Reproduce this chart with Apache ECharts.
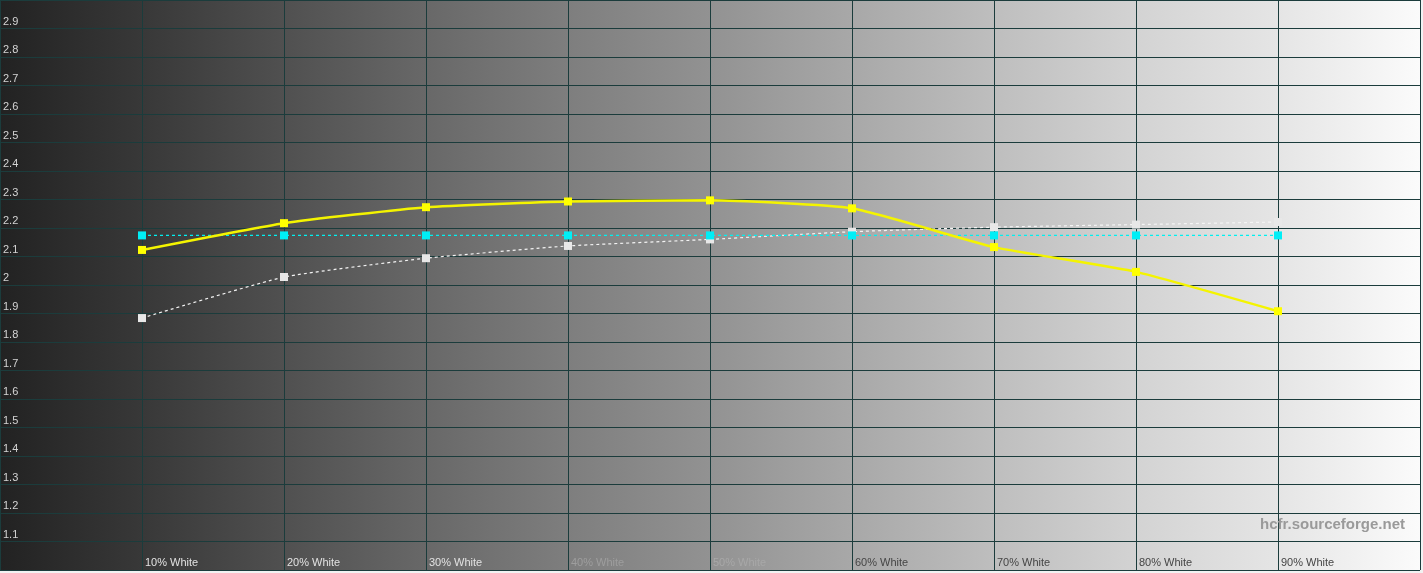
<!DOCTYPE html>
<html>
<head>
<meta charset="utf-8">
<script src="https://cdn.jsdelivr.net/npm/echarts@6/dist/echarts.min.js"></script>
<style>
html,body{margin:0;padding:0;background:#f2f2f2;}
#chart{width:1423px;height:573px;}
</style>
</head>
<body>
<div id="chart"></div>
<script>
const levels = [10, 20, 30, 40, 50, 60, 70, 80, 90];
const categories = ['10% White','20% White','30% White','40% White','50% White','60% White','70% White','80% White','90% White'];
const gammaMeasured = [2.123, 2.217, 2.273, 2.293, 2.297, 2.269, 2.133, 2.046, 1.908];
const gammaReference = [2.174, 2.174, 2.174, 2.174, 2.174, 2.174, 2.174, 2.174, 2.174];
const gammaWhite = [1.884, 2.028, 2.094, 2.137, 2.160, 2.187, 2.203, 2.212, 2.221];
const yTickLabels = ['1.1','1.2','1.3','1.4','1.5','1.6','1.7','1.8','1.9','2','2.1','2.2','2.3','2.4','2.5','2.6','2.7','2.8','2.9'];
const xLabelStyles = ['lt','lt','lt','m1','m2','dk','dk','dk','dk'];

function pairs(vals){ return levels.map((x,i)=>[x, vals[i]]); }

const FONT = 'Liberation Sans, Arial, sans-serif';
const chart = echarts.init(document.getElementById('chart'));
const bg = new echarts.graphic.LinearGradient(0,0,1,0,[
  {offset:0, color:'#222222'},
  {offset:0.1, color:'#383838'},
  {offset:0.2, color:'#505050'},
  {offset:0.3, color:'#686868'},
  {offset:0.4, color:'#7e7e7e'},
  {offset:0.5, color:'#929292'},
  {offset:0.6, color:'#a8a8a8'},
  {offset:0.7, color:'#bebebe'},
  {offset:0.8, color:'#d3d3d3'},
  {offset:0.9, color:'#e5e5e5'},
  {offset:1, color:'#fbfbfb'}
]);
chart.setOption({
  animation:false,
  backgroundColor:'#f2f2f2',
  title:{
    text:'hcfr.sourceforge.net', right:13, top:512,
    textStyle:{color:'#9a9a9a', fontSize:15, fontWeight:'bold', fontFamily:FONT}
  },
  grid:{left:0, right:3, top:0, bottom:3, containLabel:false, outerBoundsMode:'none',
        show:true, backgroundColor:bg, borderWidth:0},
  xAxis:{
    type:'value', min:0, max:100, interval:10,
    axisLine:{show:false}, axisTick:{show:false},
    splitLine:{show:true, lineStyle:{color:'#1b3c3c', width:1}},
    axisLabel:{
      inside:true, margin:2, align:'left', verticalAlign:'bottom', padding:[0,0,0,3],
      fontSize:11, fontFamily:FONT, hideOverlap:false,
      formatter:function(v){
        const i = levels.indexOf(v);
        return i>=0 ? '{' + xLabelStyles[i] + '|' + categories[i] + '}' : '';
      },
      rich:{
        lt:{color:'#e2e2e2', fontSize:11, fontFamily:FONT},
        m1:{color:'#9e9e9e', fontSize:11, fontFamily:FONT},
        m2:{color:'#a8a8a8', fontSize:11, fontFamily:FONT},
        dk:{color:'#454545', fontSize:11, fontFamily:FONT}
      }
    }
  },
  yAxis:{
    type:'value', min:1, max:3, interval:0.1,
    axisLine:{show:false}, axisTick:{show:false},
    splitLine:{show:true, lineStyle:{color:'#1b3c3c', width:1}},
    axisLabel:{
      inside:true, margin:3, align:'left', verticalAlign:'bottom', padding:[0,0,1,0],
      hideOverlap:false,
      formatter:function(v){
        const idx = Math.round(v*10) - 11;
        return (idx>=0 && idx<yTickLabels.length) ? '{y|' + yTickLabels[idx] + '}' : '';
      },
      rich:{ y:{color:'#d4d4d4', fontSize:11, lineHeight:12, fontFamily:FONT} }
    }
  },
  series:[
    {
      type:'line', data:pairs(gammaWhite), smooth:0.15,
      symbol:'rect', symbolSize:8,
      itemStyle:{color:'#e8e8e8'},
      lineStyle:{color:'#f4f4f4', width:1.2, type:[3,3]}
    },
    {
      type:'line', data:pairs(gammaReference),
      symbol:'rect', symbolSize:8,
      itemStyle:{color:'#00eef6'},
      lineStyle:{color:'#00f0f0', width:1.2, type:[3,3]}
    },
    {
      type:'line', data:pairs(gammaMeasured), smooth:0.15,
      symbol:'rect', symbolSize:8,
      itemStyle:{color:'#ffff00'},
      lineStyle:{color:'#f4f400', width:2.5}
    }
  ]
});
</script>
</body>
</html>
